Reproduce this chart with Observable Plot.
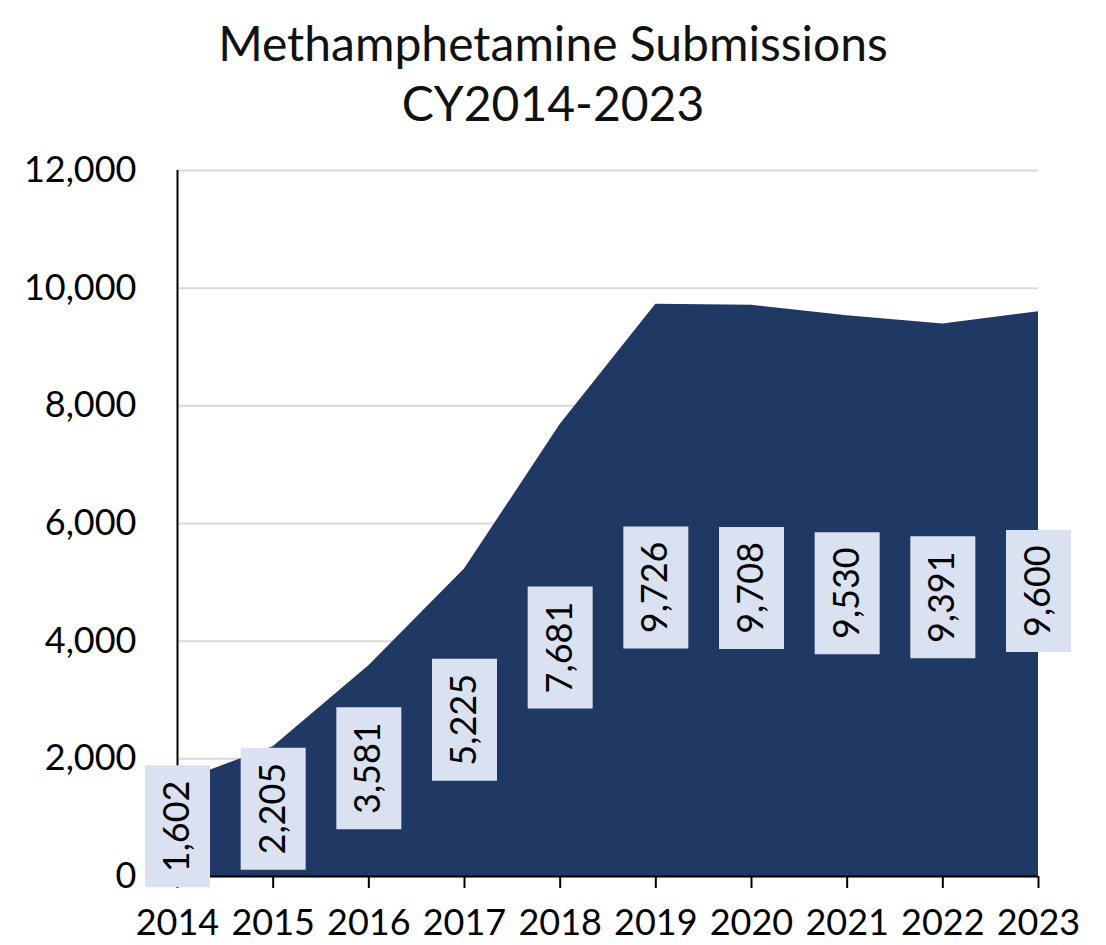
<!DOCTYPE html>
<html>
<head>
<meta charset="utf-8">
<script src="https://cdn.jsdelivr.net/npm/d3@7"></script>
<script src="https://cdn.jsdelivr.net/npm/@observablehq/plot@0.6"></script>
<style>
  html, body { margin: 0; padding: 0; background: #fff; }
  #wrap { width: 1106px; }
  #title { height: 140px; box-sizing: border-box; padding-top: 13px; text-align: center;
           font-family: Lato, sans-serif; font-size: 48px; line-height: 60px; color: #111; }
  svg { display: block; overflow: visible; }
</style>
</head>
<body>
<div id="wrap">
  <div id="title">Methamphetamine Submissions<br>CY2014-2023</div>
  <div id="chart"></div>
</div>
<script>
const years = [2014, 2015, 2016, 2017, 2018, 2019, 2020, 2021, 2022, 2023];
const submissions = [1602, 2205, 3581, 5225, 7681, 9726, 9708, 9530, 9391, 9600];
const yTicks = [0, 2000, 4000, 6000, 8000, 10000, 12000];

const data = years.map((year, i) => ({year, value: submissions[i]}));
const comma = d3.format(",");

const boxSymbol = {
  draw(context) {
    context.moveTo(-32.5, -61);
    context.lineTo(32.5, -61);
    context.lineTo(32.5, 61);
    context.lineTo(-32.5, 61);
    context.closePath();
  }
};

const chart = Plot.plot({
  width: 1106,
  height: 805,
  marginTop: 30,
  marginBottom: 69,
  marginLeft: 177,
  marginRight: 68,
  style: {fontFamily: "Lato, sans-serif", fontSize: "36px", color: "#000", background: "#fff"},
  x: {domain: [2014, 2023], label: null},
  y: {domain: [0, 12000], label: null},
  marks: [
    Plot.gridY(yTicks, {stroke: "#d9d9d9", strokeOpacity: 1, strokeWidth: 2}),
    Plot.areaY(data, {x: "year", y: "value", fill: "#203864"}),
    Plot.ruleX([2014], {stroke: "#000", strokeWidth: 2}),
    Plot.ruleY([0], {stroke: "#000", strokeWidth: 2}),
    Plot.axisX(years, {tickFormat: d => String(d), tickSize: 12, tickPadding: 21, stroke: "#000", strokeWidth: 2, label: null}),
    Plot.axisY(yTicks, {tickFormat: comma, tickSize: 0, tickPadding: 41, label: null}),
    Plot.dot(data, {x: "year", y: d => d.value / 2, symbol: boxSymbol, fill: "#dae2f2", stroke: null, r: 10, dy: -3}),
    Plot.text(data, {x: "year", y: d => d.value / 2, text: d => comma(d.value), rotate: -90,
                     fill: "#000", fontSize: 36, textAnchor: "middle", lineAnchor: "middle", dy: -3})
  ]
});
document.getElementById("chart").appendChild(chart);
</script>
</body>
</html>
